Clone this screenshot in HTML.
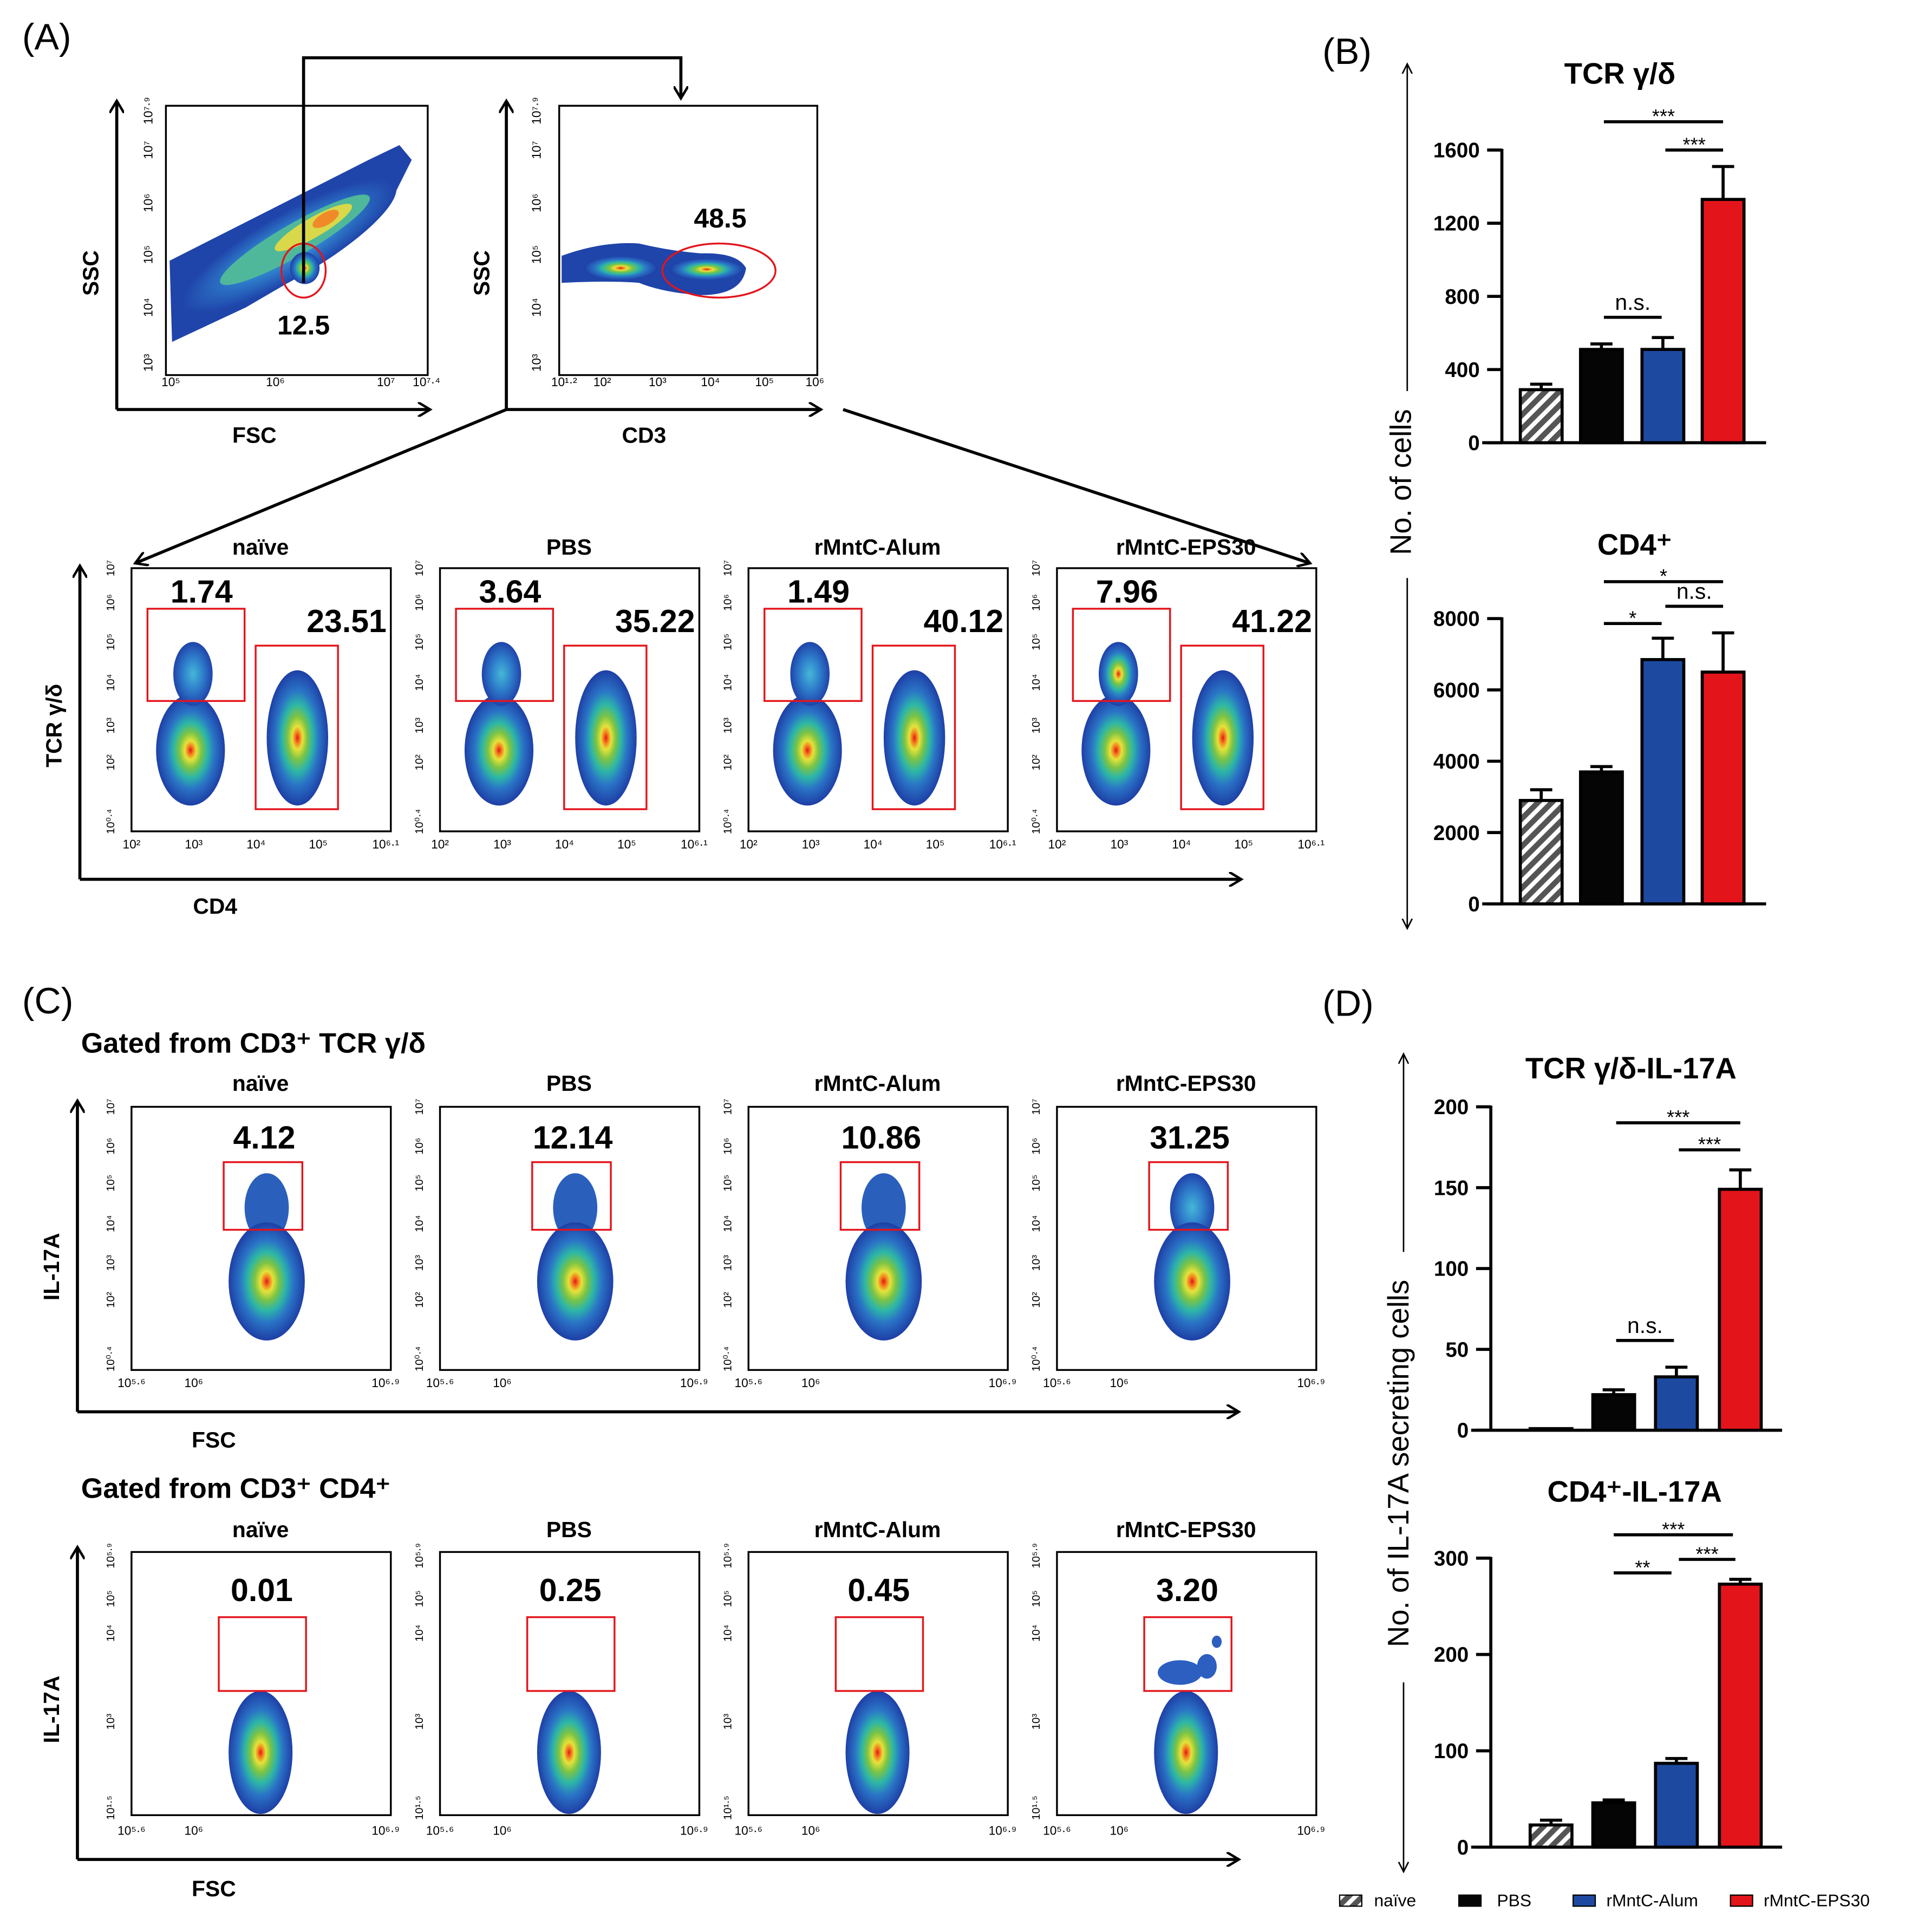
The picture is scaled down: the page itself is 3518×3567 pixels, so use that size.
<!DOCTYPE html>
<html><head><meta charset="utf-8"><style>
html,body{margin:0;padding:0;background:#fff;}
svg{display:block;}
text{font-family:"Liberation Sans",sans-serif;}
</style></head><body>
<svg id="fig" width="3518" height="3567" viewBox="0 0 1550 1571" preserveAspectRatio="none" xmlns="http://www.w3.org/2000/svg">
<defs>
<radialGradient id="heat"><stop offset="0" stop-color="#e3161b"/><stop offset="0.08" stop-color="#f47d1f"/><stop offset="0.17" stop-color="#e6e23a"/><stop offset="0.32" stop-color="#7cc444"/><stop offset="0.5" stop-color="#2cb6a8"/><stop offset="0.7" stop-color="#2a74c6"/><stop offset="1" stop-color="#1e3fa6"/></radialGradient>
<radialGradient id="cool"><stop offset="0" stop-color="#45b8d6"/><stop offset="0.5" stop-color="#2f7fcc"/><stop offset="1" stop-color="#1f44aa"/></radialGradient>
<pattern id="hatch" width="8" height="8" patternUnits="userSpaceOnUse" patternTransform="rotate(45)"><rect width="8" height="8" fill="#fff"/><rect width="4.5" height="8" fill="#555"/></pattern>
<marker id="ah" markerWidth="12" markerHeight="12" refX="10" refY="6" orient="auto" markerUnits="userSpaceOnUse"><path d="M0,0 L10,6 L0,12" fill="none" stroke="#000" stroke-width="2"/></marker>
<marker id="ahs" markerWidth="10" markerHeight="10" refX="8" refY="5" orient="auto" markerUnits="userSpaceOnUse"><path d="M0,1 L8,5 L0,9" fill="none" stroke="#000" stroke-width="1.2"/></marker>
</defs>
<g id="root" font-family="Liberation Sans, sans-serif"></g>
</svg>
<script>
// ---- bar chart data ----
const groups = ["naïve","PBS","rMntC-Alum","rMntC-EPS30"];
const tcrValues = [290, 510, 510, 1330];
const tcrErrors = [30, 30, 65, 180];
const tcrTicks = [0,400,800,1200,1600];
const cd4Values = [2900, 3700, 6850, 6500];
const cd4Errors = [300, 150, 600, 1100];
const cd4Ticks = [0,2000,4000,6000,8000];
const il17tcrValues = [1, 22, 33, 149];
const il17tcrErrors = [0, 3, 6, 12];
const il17tcrTicks = [0,50,100,150,200];
const il17cd4Values = [23, 46, 87, 273];
const il17cd4Errors = [5, 3, 5, 5];
const il17cd4Ticks = [0,100,200,300];
const gateTcrA = ["1.74","3.64","1.49","7.96"];
const gateCd4A = ["23.51","35.22","40.12","41.22"];
const gateIlTcr = ["4.12","12.14","10.86","31.25"];
const gateIlCd4 = ["0.01","0.25","0.45","3.20"];

const NS="http://www.w3.org/2000/svg";
const root=document.getElementById('root');
function el(tag,attrs,parent,txt){const e=document.createElementNS(NS,tag);for(const k in attrs)e.setAttribute(k,attrs[k]);if(txt!==undefined)e.textContent=txt;(parent||root).appendChild(e);return e;}
function txt(x,y,s,size,opts,parent){opts=opts||{};const t=el('text',Object.assign({x:x,y:y,'font-size':size,'text-anchor':opts.anchor||'middle','font-weight':opts.bold?'bold':'normal',fill:opts.fill||'#000'},opts.tr?{transform:opts.tr}:{}),parent,s);return t;}
function line(x1,y1,x2,y2,w,parent,marker){const a={x1,y1,x2,y2,stroke:'#000','stroke-width':w||2};if(marker)a['marker-end']=marker;return el('line',a,parent);}
const colors=['url(#hatch)','#050505','#1d4aa0','#e4141b'];

[['(A)',18,40],['(B)',1076,52],['(C)',18,824],['(D)',1076,826]].forEach(p=>{const t=txt(p[1],p[2],p[0],30,{anchor:'start'});});

function blob(g,cx,cy,rx,ry,rot,fill){el('ellipse',{cx,cy,rx,ry,fill,transform:`rotate(${rot||0} ${cx} ${cy})`},g);}

// ---- Panel A top plots ----
const gA1=el('g',{});


el('rect',{x:135,y:86,width:213,height:219,fill:'none',stroke:'#000','stroke-width':1.5},gA1);
el('path',{d:'M138,212 L300,130 L325,118 L335,130 L320,160 L260,215 L200,250 L140,278 Z',fill:'#1f44aa'},gA1);
blob(gA1,235,200,100,26,-30,'url(#cool)');
blob(gA1,240,195,70,13,-30,'#4fb89a');
blob(gA1,255,185,36,8,-30,'#d8d84a');
blob(gA1,265,178,12,5,-30,'#f08a28');
blob(gA1,248,218,12,13,0,'url(#heat)');
el('ellipse',{cx:247,cy:220,rx:18,ry:22,fill:'none',stroke:'#e4141b','stroke-width':1.5},gA1);
txt(247,272,'12.5',22,{bold:1},gA1);
line(95,333,95,82,2.5,gA1,'url(#ah)');line(95,333,350,333,2.5,gA1,'url(#ah)');
txt(80,222,'SSC',18,{bold:1,tr:'rotate(-90 80 222)'},gA1);txt(207,360,'FSC',18,{bold:1},gA1);
[['10⁵',139],['10⁶',224],['10⁷',314],['10⁷·⁴',347]].forEach(t=>txt(t[1],314,t[0],10,{},gA1));
[['10³',295],['10⁴',250],['10⁵',207],['10⁶',165],['10⁷',122],['10⁷·⁹',90]].forEach(t=>txt(124,t[1],t[0],10,{tr:`rotate(-90 124 ${t[1]})`},gA1));

const gA2=el('g',{});


el('rect',{x:455,y:86,width:210,height:219,fill:'none',stroke:'#000','stroke-width':1.5},gA2);
el('path',{d:'M457,208 Q490,196 520,198 Q545,204 570,206 Q600,205 607,218 Q604,240 570,240 Q540,238 520,230 Q495,228 457,230 Z',fill:'#1f44aa'},gA2);
blob(gA2,505,218,30,10,0,'url(#heat)');
blob(gA2,575,219,30,9,0,'url(#heat)');
el('ellipse',{cx:585,cy:220,rx:46,ry:22,fill:'none',stroke:'#e4141b','stroke-width':1.5},gA2);
txt(586,185,'48.5',22,{bold:1},gA2);
line(412,333,412,82,2.5,gA2,'url(#ah)');line(412,333,668,333,2.5,gA2,'url(#ah)');
txt(398,222,'SSC',18,{bold:1,tr:'rotate(-90 398 222)'},gA2);txt(524,360,'CD3',18,{bold:1},gA2);
[['10¹·²',459],['10²',490],['10³',535],['10⁴',578],['10⁵',622],['10⁶',663]].forEach(t=>txt(t[1],314,t[0],10,{},gA2));
[['10³',295],['10⁴',250],['10⁵',207],['10⁶',165],['10⁷',122],['10⁷·⁹',90]].forEach(t=>txt(440,t[1],t[0],10,{tr:`rotate(-90 440 ${t[1]})`},gA2));

const gArr=el('g',{});


el('path',{d:'M247,230 L247,47 L554,47 L554,80',fill:'none',stroke:'#000','stroke-width':2.5,'marker-end':'url(#ah)'},gArr);
line(412,333,110,458,2.5,gArr,'url(#ah)');
line(686,333,1066,458,2.5,gArr,'url(#ah)');

const boxX=[107,358,609,860];
function ticksBottom(g,x,y,labels){labels.forEach((l,i)=>{if(l)txt(x+[0,0.24,0.48,0.72,0.98][i]*211,y,l,10,{},g);});}

// ---- Panel A bottom row ----
txt(175,743,'CD4',18,{bold:1});
txt(50,590,'TCR γ/δ',18,{bold:1,tr:'rotate(-90 50 590)'});
line(65,715,65,460,2.5,null,'url(#ah)');line(65,715,1010,715,2.5,null,'url(#ah)');
boxX.forEach((x,i)=>{
  const g=el('g',{});
  
  
  txt(x+105,451,groups[i],18,{bold:1},g);
  el('rect',{x:x,y:462,width:211,height:214,fill:'none',stroke:'#000','stroke-width':1.5},g);
  blob(g,x+48,610,28,45,0,'url(#heat)');
  blob(g,x+50,548,16,26,0,i==3?'url(#heat)':'url(#cool)');
  blob(g,x+135,600,25,55,0,'url(#heat)');
  el('rect',{x:x+13,y:495,width:79,height:75,fill:'none',stroke:'#e4141b','stroke-width':1.5},g);
  el('rect',{x:x+101,y:525,width:67,height:133,fill:'none',stroke:'#e4141b','stroke-width':1.5},g);
  txt(x+57,490,gateTcrA[i],26,{bold:1},g);
  txt(x+175,514,gateCd4A[i],26,{bold:1},g);
  ticksBottom(g,x,690,['10²','10³','10⁴','10⁵','10⁶·¹']);
  [['10⁰·⁴',668],['10²',620],['10³',590],['10⁴',555],['10⁵',522],['10⁶',490],['10⁷',462]].forEach(t=>txt(x-14,t[1],t[0],9,{tr:`rotate(-90 ${x-14} ${t[1]})`},g));
});

// ---- Panel C ----
txt(66,856,'Gated from CD3⁺ TCR γ/δ',23,{bold:1,anchor:'start'});
txt(66,1218,'Gated from CD3⁺ CD4⁺',23,{bold:1,anchor:'start'});
line(63,1148,63,895,2.5,null,'url(#ah)');line(63,1148,1008,1148,2.5,null,'url(#ah)');
line(63,1512,63,1258,2.5,null,'url(#ah)');line(63,1512,1008,1512,2.5,null,'url(#ah)');
txt(174,1177,'FSC',18,{bold:1});txt(174,1542,'FSC',18,{bold:1});
txt(48,1030,'IL-17A',18,{bold:1,tr:'rotate(-90 48 1030)'});
txt(48,1390,'IL-17A',18,{bold:1,tr:'rotate(-90 48 1390)'});
boxX.forEach((x,i)=>{
  const g=el('g',{});
  
  
  txt(x+105,887,groups[i],18,{bold:1},g);
  el('rect',{x:x,y:900,width:211,height:214,fill:'none',stroke:'#000','stroke-width':1.5},g);
  blob(g,x+110,982,18,28,0,i==3?'url(#cool)':'#2a5fbc');
  blob(g,x+110,1042,31,48,0,'url(#heat)');
  el('rect',{x:x+75,y:945,width:64,height:55,fill:'none',stroke:'#e4141b','stroke-width':1.5},g);
  txt(x+108,934,gateIlTcr[i],26,{bold:1},g);
  ticksBottom(g,x,1128,['10⁵·⁶','10⁶','','','10⁶·⁹']);
  [['10⁰·⁴',1105],['10²',1057],['10³',1027],['10⁴',995],['10⁵',962],['10⁶',932],['10⁷',900]].forEach(t=>txt(x-14,t[1],t[0],9,{tr:`rotate(-90 ${x-14} ${t[1]})`},g));

  const h=el('g',{});
  
  
  txt(x+105,1250,groups[i],18,{bold:1},h);
  el('rect',{x:x,y:1262,width:211,height:214,fill:'none',stroke:'#000','stroke-width':1.5},h);
  if(i==3){blob(h,x+100,1360,18,10,0,'#2d5fc0');blob(h,x+122,1355,8,10,0,'#2d5fc0');blob(h,x+130,1335,4,5,0,'#2d5fc0');}
  blob(h,x+105,1425,26,50,0,'url(#heat)');
  el('rect',{x:x+71,y:1315,width:71,height:60,fill:'none',stroke:'#e4141b','stroke-width':1.5},h);
  txt(x+106,1302,gateIlCd4[i],26,{bold:1},h);
  ticksBottom(h,x,1492,['10⁵·⁶','10⁶','','','10⁶·⁹']);
  [['10¹·⁵',1470],['10³',1400],['10⁴',1328],['10⁵',1300],['10⁵·⁹',1265]].forEach(t=>txt(x-14,t[1],t[0],9,{tr:`rotate(-90 ${x-14} ${t[1]})`},h));
});

// ---- bar charts ----
function barChart(name,title,tx,ty,axX,axEnd,y0,yTop,ticks,vals,errs,centers,bw,sigs){
  const g=el('g',{});
  
  
  const max=ticks[ticks.length-1];
  const Y=v=>y0-(v/max)*(y0-yTop);
  txt(tx,ty,title,24,{bold:1},g);
  line(axX,y0+1,axX,yTop-1,2.5,g);
  line(axX-16,y0,axEnd,y0,2.5,g);
  ticks.forEach(t=>{line(axX-12,Y(t),axX,Y(t),2.5,g);txt(axX-18,Y(t)+6,String(t),17,{bold:1,anchor:'end'},g);});
  vals.forEach((v,i)=>{
    const cx=centers[i];
    if(errs[i]>0){line(cx,Y(v),cx,Y(v+errs[i]),2.5,g);line(cx-9,Y(v+errs[i]),cx+9,Y(v+errs[i]),2.5,g);}
    const r=el('rect',{x:cx-bw/2,y:Y(v),width:bw,height:Math.max(0.5,y0-Y(v)),fill:colors[i],stroke:'#000','stroke-width':2.5},g);
    
    
  });
  sigs.forEach(s=>{line(s[0],s[2],s[1],s[2],2.5,g);txt((s[0]+s[1])/2,s[2]-(s[3]=='n.s.'?6:-1),s[3],s[3]=='n.s.'?18:16,{},g);});
}
barChart('chart-tcr','TCR γ/δ',1318,68,1222,1437,360,122,tcrTicks,tcrValues,tcrErrors,[1254,1303,1353,1402],34,
  [[1305,1402,99,'***'],[1355,1402,122,'***'],[1305,1352,258,'n.s.']]);
barChart('chart-cd4','CD4⁺',1330,451,1222,1437,735,503,cd4Ticks,cd4Values,cd4Errors,[1254,1303,1353,1402],34,
  [[1305,1402,473,'*'],[1305,1352,507,'*'],[1355,1402,493,'n.s.']]);
barChart('chart-il17-tcr','TCR γ/δ-IL-17A',1327,877,1213,1450,1163,900,il17tcrTicks,il17tcrValues,il17tcrErrors,[1262,1313,1364,1416],34,
  [[1315,1416,913,'***'],[1366,1416,935,'***'],[1315,1362,1090,'n.s.']]);
barChart('chart-il17-cd4','CD4⁺-IL-17A',1330,1221,1213,1450,1502,1267,il17cd4Ticks,il17cd4Values,il17cd4Errors,[1262,1313,1364,1416],34,
  [[1313,1410,1248,'***'],[1313,1360,1279,'**'],[1366,1412,1268,'***']]);

txt(1148,392,'No. of cells',24,{tr:'rotate(-90 1148 392)'});
line(1145,318,1145,52,1.2,null,'url(#ahs)');line(1145,470,1145,755,1.2,null,'url(#ahs)');
txt(1146,1190,'No. of IL-17A secreting cells',24,{tr:'rotate(-90 1146 1190)'});
line(1142,1018,1142,857,1.2,null,'url(#ahs)');line(1142,1368,1142,1522,1.2,null,'url(#ahs)');

const lg=el('g',{});


[[1090,1118],[1187,1218],[1280,1307],[1408,1435]].forEach((p,i)=>{
  el('rect',{x:p[0],y:1541,width:18,height:9,fill:colors[i],stroke:'#000','stroke-width':1},lg);
  txt(p[1],1550,groups[i],14,{anchor:'start'},lg);
});
</script>
</body></html>
